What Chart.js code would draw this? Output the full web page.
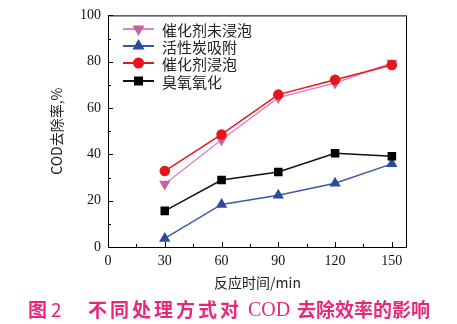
<!DOCTYPE html>
<html>
<head>
<meta charset="utf-8">
<script src="https://cdn.jsdelivr.net/npm/chart.js@4/dist/chart.umd.min.js"></script>
<style>
  body { margin: 0; background: #fff; }
  #wrap { position: relative; width: 457px; height: 324px; }
  .cap {
    position: absolute; top: 297px; line-height: 24px; white-space: nowrap;
    font-family: "Noto Sans CJK SC", sans-serif; font-weight: bold; font-size: 19px;
    color: #e6287c;
  }
  .cap.en { font-family: "Liberation Serif", serif; font-weight: normal; font-size: 20px; }
</style>
</head>
<body>
<div id="wrap">
  <canvas id="chart" width="457" height="324"></canvas>
  <span class="cap" style="left:28px">图</span>
  <span class="cap" style="left:51px;font-weight:normal">2</span>
  <span class="cap" style="left:88px;letter-spacing:3px">不同处理方式对</span>
  <span class="cap en" style="left:248px">COD</span>
  <span class="cap" style="left:297px">去除效率的影响</span>
</div>
<script>
// data
const times = [30, 60, 90, 120, 150];
const catalystUnsoaked = [27.2, 46.3, 64.5, 70.8, 79.5];
const activatedCarbon = [3.7, 18.4, 22.3, 27.5, 35.9];
const catalystSoaked = [32.8, 48.6, 65.8, 72.2, 78.6];
const ozoneOnly = [15.6, 28.9, 32.4, 40.5, 39.2];
const xTicks = [0, 30, 60, 90, 120, 150];
const yTicks = [0, 20, 40, 60, 80, 100];

const names = ['催化剂未浸泡', '活性炭吸附', '催化剂浸泡', '臭氧氧化'];

const pts = arr => arr.map((v, i) => ({x: times[i], y: v}));

const seriesStyle = [
  {line: '#dc86cc', fill: '#c462a6', style: 'triangle', rotation: 180, radius: 5},
  {line: '#3a5aa8', fill: '#2a4c9c', style: 'triangle', rotation: 0, radius: 5},
  {line: '#e8141e', fill: '#e8141e', style: 'circle', rotation: 0, radius: 4.5},
  {line: '#111111', fill: '#000000', style: 'rect', rotation: 0, radius: 5}
];
const seriesData = [catalystUnsoaked, activatedCarbon, catalystSoaked, ozoneOnly];

// frame, inward ticks and the in-plot legend
const extras = {
  id: 'extras',
  afterDatasetsDraw(chart) {
    const ctx = chart.ctx;
    const a = chart.chartArea;
    const xs = chart.scales.x, ys = chart.scales.y;
    ctx.save();
    ctx.strokeStyle = '#000';
    ctx.lineWidth = 1;
    ctx.strokeRect(a.left + 0.5, a.top + 0.5, a.right - a.left - 1, a.bottom - a.top);
    ctx.beginPath();
    for (let v = 0; v <= 100; v += 10) {
      const y = Math.round(ys.getPixelForValue(v)) + 0.5;
      const len = v % 20 === 0 ? 5 : 3;
      ctx.moveTo(a.left, y); ctx.lineTo(a.left + len, y);
    }
    for (let v = 0; v <= 150; v += 15) {
      const x = Math.round(xs.getPixelForValue(v)) + 0.5;
      const len = v % 30 === 0 ? 5 : 3;
      ctx.moveTo(x, a.bottom); ctx.lineTo(x, a.bottom - len);
    }
    ctx.stroke();

    // legend
    const lx0 = a.left + 15, lx1 = a.left + 46, tx = a.left + 54;
    const rows = [29, 46, 63, 81];
    ctx.font = '15px "Noto Sans CJK SC"';
    ctx.textBaseline = 'middle';
    names.forEach((n, i) => {
      const s = seriesStyle[i];
      ctx.strokeStyle = s.line;
      ctx.lineWidth = 2;
      ctx.beginPath();
      ctx.moveTo(lx0, rows[i]); ctx.lineTo(lx1, rows[i]);
      ctx.stroke();
      ctx.fillStyle = s.fill;
      ctx.strokeStyle = s.fill;
      Chart.helpers.drawPoint(ctx, {pointStyle: s.style, radius: s.radius, rotation: s.rotation, borderWidth: 1}, (lx0 + lx1) / 2, rows[i]);
      ctx.fillStyle = '#222';
      ctx.fillText(n, tx, rows[i] + 1);
    });
    ctx.restore();
  }
};

new Chart(document.querySelector('#chart').getContext('2d'), {
  type: 'line',
  data: {
    datasets: [3, 1, 2, 0].map(i => ({
      label: names[i],
      data: pts(seriesData[i]),
      borderColor: seriesStyle[i].line,
      backgroundColor: seriesStyle[i].fill,
      pointBorderColor: seriesStyle[i].fill,
      borderWidth: 1.5,
      pointStyle: seriesStyle[i].style,
      pointRotation: seriesStyle[i].rotation,
      pointRadius: seriesStyle[i].radius,
      tension: 0
    }))
  },
  plugins: [extras],
  options: {
    responsive: false,
    animation: false,
    layout: {padding: {left: 0, top: 10, right: 50, bottom: 33}},
    plugins: {legend: {display: false}, tooltip: {enabled: false}},
    scales: {
      x: {
        type: 'linear', min: 0, max: 158,
        afterBuildTicks: s => { s.ticks = xTicks.map(v => ({value: v})); },
        afterFit: s => { s.height = 44; },
        grid: {display: false, drawTicks: false},
        border: {display: false},
        ticks: {color: '#111', padding: 6, font: {family: 'Liberation Serif', size: 14}, maxRotation: 0},
        title: {display: true, text: '反应时间/min', color: '#222', padding: {top: 0, bottom: 0},
          font: {family: '"Noto Sans CJK SC"', size: 14}}
      },
      y: {
        min: 0, max: 100,
        afterBuildTicks: s => { s.ticks = yTicks.map(v => ({value: v})); },
        afterFit: s => { s.width = 108; },
        grid: {display: false, drawTicks: false},
        border: {display: false},
        ticks: {color: '#111', padding: 7, font: {family: 'Liberation Serif', size: 14}},
        title: {display: true, text: 'COD去除率,%', color: '#222', padding: {top: 48, bottom: 0},
          font: {family: '"Noto Sans CJK SC", "Liberation Serif"', size: 14}}
      }
    }
  }
});
</script>
</body>
</html>
